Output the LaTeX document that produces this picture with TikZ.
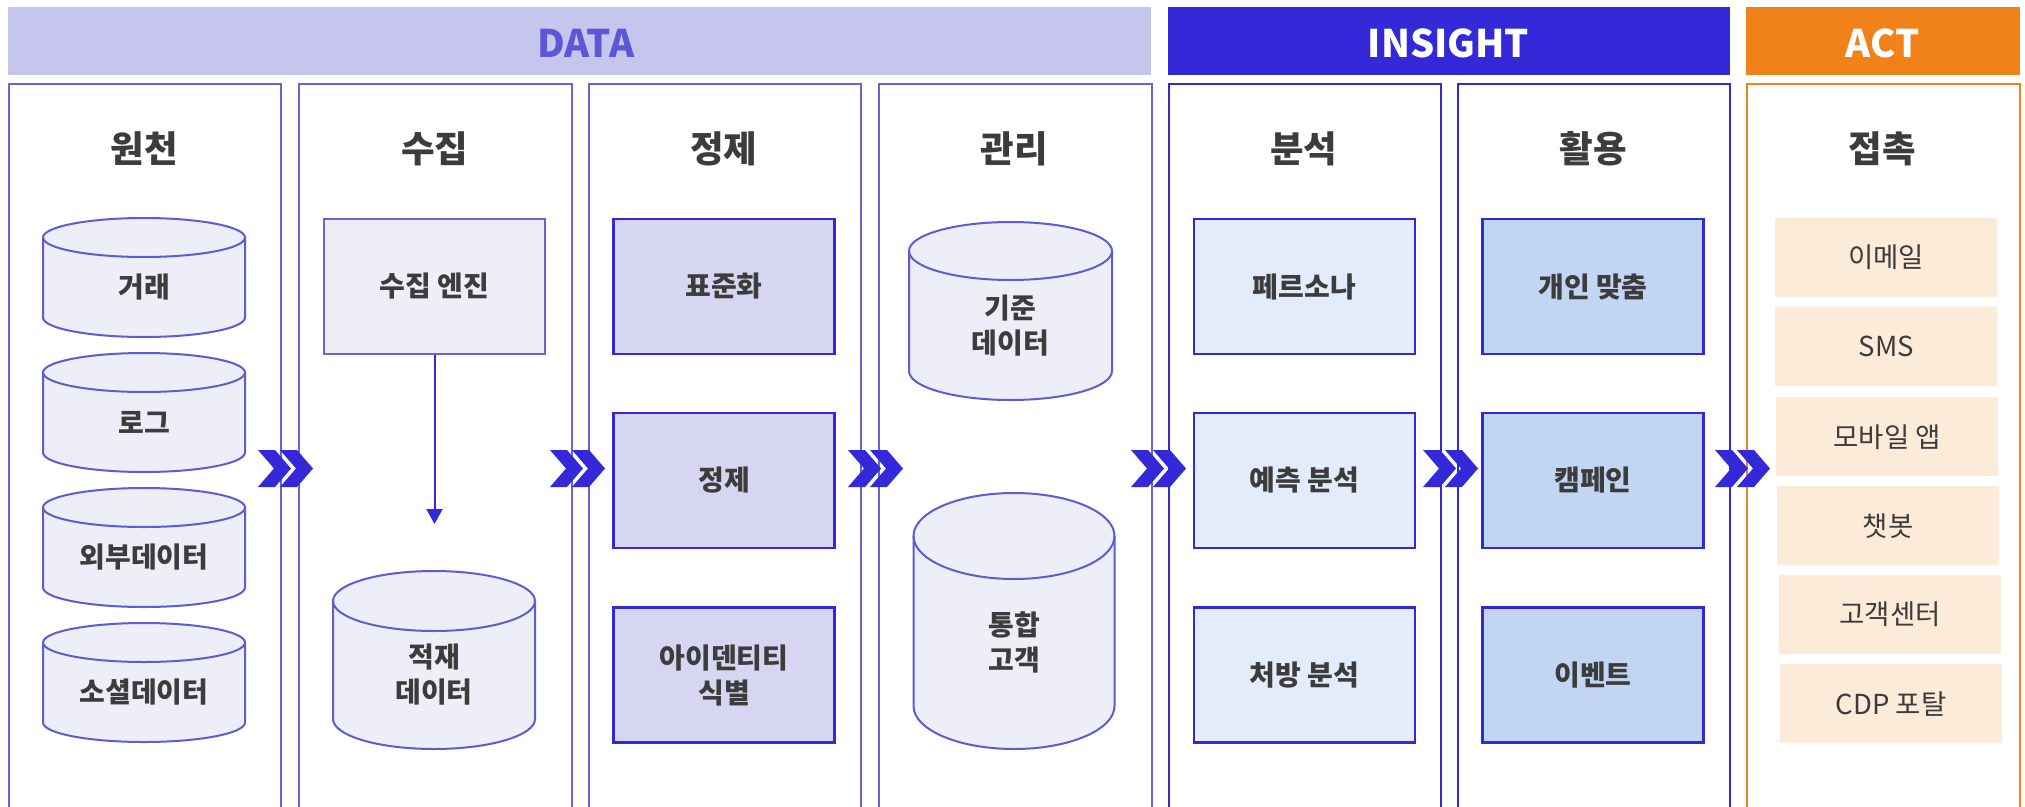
\documentclass[tikz,border=0pt]{standalone}
\usepackage{fontspec}
\setmainfont{Noto Sans CJK KR}
\usetikzlibrary{arrows.meta}
\definecolor{dataBand}{HTML}{C6C5EE}
\definecolor{dataText}{HTML}{5B57D6}
\definecolor{dataEdge}{HTML}{6664D8}
\definecolor{insBlue}{HTML}{3329D9}
\definecolor{actOrange}{HTML}{F08219}
\definecolor{cylFill}{HTML}{EEEEF9}
\definecolor{cylEdge}{HTML}{5E5CD3}
\definecolor{refFill}{HTML}{D7D6F2}
\definecolor{anaFill}{HTML}{E3ECFA}
\definecolor{useFill}{HTML}{C2D6F4}
\definecolor{actFill}{HTML}{FDEBD9}
\definecolor{txt}{HTML}{3C3C3C}
\tikzset{
  band/.style={anchor=north west, inner sep=0, minimum height=68, font=\fontsize{38}{46}\selectfont\bfseries},
  bandtext/.style={inner sep=0, font=\fontsize{38}{46}\selectfont\bfseries},
  panelbox/.style={anchor=north west, inner sep=0, line width=2pt, fill=white, minimum width=272.5, minimum height=760},
  coltitle/.style={text=txt, font=\fontsize{36.5}{44}\selectfont\bfseries},
  lbl/.style={text=txt, align=center, font=\fontsize{28}{35}\selectfont\bfseries},
  cylst/.style={draw=cylEdge, fill=cylFill, line width=2pt},
  flowbox/.style={lbl, draw=insBlue, line width=2.5pt, minimum width=221, minimum height=135, inner sep=0},
  actbox/.style={anchor=north west, fill=actFill, text=txt, minimum width=222, minimum height=79, inner sep=0, font=\fontsize{27.5}{35}\selectfont},
  chevst/.style={fill=insBlue},
  arrowst/.style={draw=insBlue, line width=2pt, -{Triangle[width=16pt,length=15pt]}}
}
\newcommand\mycyl[7]{%
  \path[cylst] (#2-#6,#3+#5) -- (#2-#6,#4-#5)
     arc[start angle=180,end angle=0,x radius=#6,y radius=#5]
     -- (#2+#6,#3+#5)
     arc[start angle=0,end angle=-180,x radius=#6,y radius=#5] -- cycle;
  \draw[cylst, fill=none] (#2-#6,#3+#5) arc[start angle=180,end angle=0,x radius=#6,y radius=#5];
  \node[lbl] (#1) at (#2,{(#3+#4)/2+#5/2}) {#7};
}
\newcommand\mychev[2]{%
  \foreach \dx in {0,22}{%
    \fill[chevst] (#1+\dx,#2-18.5) -- (#1+\dx+17,#2-18.5) -- (#1+\dx+33,#2) -- (#1+\dx+17,#2+18.5) -- (#1+\dx,#2+18.5) -- (#1+\dx+16,#2) -- cycle;
  }%
}
\begin{document}
\begin{tikzpicture}[x=1pt,y=-1pt]
\useasboundingbox (0,0) rectangle (2025,806);
\clip (0,0) rectangle (2025,806);
% banners
\node[band, fill=dataBand, minimum width=1143] (bd) at (7.7,7) {};
\node[band, fill=insBlue, minimum width=561.8] (bi) at (1167.5,7) {};
\node[band, fill=actOrange, minimum width=274] (ba) at (1746,7) {};
\node[bandtext, text=dataText] (bdt) at (586,43) {DATA};
\node[bandtext, text=white] (bit) at (1448.5,43) {INSIGHT};
\node[bandtext, text=white] (bat) at (1882.5,43) {ACT};
% panels
\node[panelbox, draw=dataEdge] (p1) at (7.7,82.7) {};
\node[panelbox, draw=dataEdge] (p2) at (298.3,82.7) {};
\node[panelbox, draw=dataEdge] (p3) at (587.6,82.7) {};
\node[panelbox, draw=dataEdge] (p4) at (878.2,82.7) {};
\node[panelbox, draw=insBlue] (p5) at (1167.5,82.7) {};
\node[panelbox, draw=insBlue] (p6) at (1456.8,82.7) {};
\node[panelbox, draw=actOrange] (p7) at (1746.1,82.7) {};
% titles
\node[coltitle] (t1) at (144,149) {원천};
\node[coltitle] (t2) at (434.6,149) {수집};
\node[coltitle] (t3) at (723.9,149) {정제};
\node[coltitle] (t4) at (1014.5,149) {관리};
\node[coltitle] (t5) at (1303.8,149) {분석};
\node[coltitle] (t6) at (1593,149) {활용};
\node[coltitle] (t7) at (1882.4,149) {접촉};
% source cylinders
\mycyl{c11}{144}{218}{337}{19.5}{101}{거래}
\mycyl{c12}{144}{353}{472}{19.5}{101}{로그}
\mycyl{c13}{144}{488}{607}{19.5}{101}{외부데이터}
\mycyl{c14}{144}{623}{742}{19.5}{101}{소셜데이터}
% collect
\node[lbl, draw=dataEdge, fill=cylFill, line width=2pt, minimum width=221, minimum height=135, inner sep=0] (eng) at (434.5,286.5) {수집 엔진};
\mycyl{c21}{434}{571}{749}{30}{101}{적재\\데이터}
\coordinate (arrEnd) at (434.5,524);
\draw[arrowst] (eng.south) -- (arrEnd);
% refine
\node[flowbox, fill=refFill] (r1) at (724,286.5) {표준화};
\node[flowbox, fill=refFill] (r2) at (724,480.5) {정제};
\node[flowbox, fill=refFill] (r3) at (724,675) {아이덴티티\\식별};
% manage
\mycyl{c41}{1010.5}{222}{400}{29}{101.5}{기준\\데이터}
\mycyl{c42}{1014}{493}{749}{43}{100.5}{통합\\고객}
% analyze
\node[flowbox, fill=anaFill] (n1) at (1304.5,286.5) {페르소나};
\node[flowbox, fill=anaFill] (n2) at (1304.5,480.5) {예측 분석};
\node[flowbox, fill=anaFill] (n3) at (1304.5,675) {처방 분석};
% use
\node[flowbox, fill=useFill] (u1) at (1593,286.5) {개인 맞춤};
\node[flowbox, fill=useFill] (u2) at (1593,480.5) {캠페인};
\node[flowbox, fill=useFill] (u3) at (1593,675) {이벤트};
% act
\node[actbox] (a1) at (1775,218) {이메일};
\node[actbox] (a2) at (1775,307) {SMS};
\node[actbox] (a3) at (1776,397) {모바일 앱};
\node[actbox] (a4) at (1777,486) {챗봇};
\node[actbox] (a5) at (1779,575) {고객센터};
\node[actbox] (a6) at (1780,664) {CDP 포탈};
% chevrons
\mychev{258}{468.5}
\mychev{550}{468.5}
\mychev{848}{468.5}
\mychev{1131}{468.5}
\mychev{1423}{468.5}
\mychev{1715}{468.5}
\end{tikzpicture}
\end{document}
